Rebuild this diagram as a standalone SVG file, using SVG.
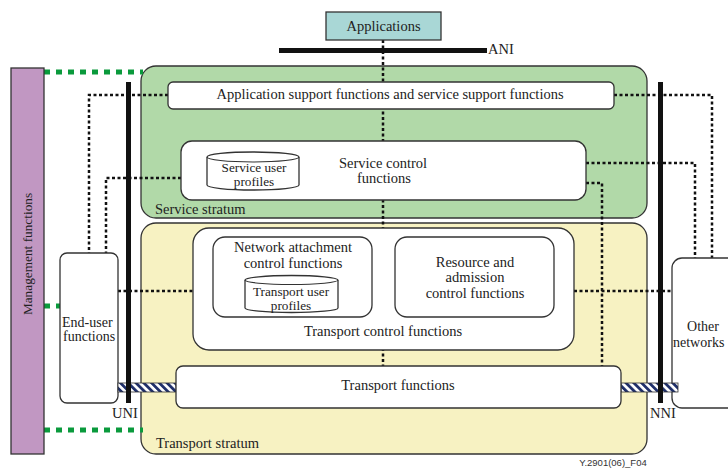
<svg xmlns="http://www.w3.org/2000/svg" width="728" height="468" viewBox="0 0 728 468">
<style>
text{font-family:'Liberation Serif','Times New Roman',Times,serif;}
.t{font-size:14.5px;fill:#222;}
.s{font-size:13.2px;}
.box{fill:#fff;stroke:#333;stroke-width:1.3;}
.dot{fill:none;stroke:#111;stroke-width:2.5;stroke-dasharray:3 2.5;}
.gdash{fill:none;stroke:#0a9a3c;stroke-width:5;stroke-dasharray:6 6;}
.bar{fill:#111;}
.foot{font-family:'Liberation Sans',Arial,sans-serif;font-size:9.5px;fill:#333;}
</style>
<defs>
<pattern id="hatch" patternUnits="userSpaceOnUse" width="5.5" height="5.5" patternTransform="rotate(-45)">
<rect width="5.5" height="5.5" fill="#fff"/>
<rect width="2.8" height="5.5" fill="#1f2f6a"/>
</pattern>
</defs>
<rect width="728" height="468" fill="#fff"/>

<g font-family="Liberation Serif, Times New Roman, serif">
<g id="service-stratum">
<rect x="141" y="66" width="506" height="152" rx="15" fill="#b1d9a8" stroke="#333" stroke-width="1.3"/>
<text class="t" x="155" y="214">Service stratum</text>
</g>
<g id="transport-stratum">
<rect x="141" y="223" width="506" height="231" rx="15" fill="#f7f2c2" stroke="#333" stroke-width="1.3"/>
<text class="t" x="156" y="448">Transport stratum</text>
</g>

<g id="connectors">
<line class="dot" x1="383" y1="40" x2="383" y2="366"/>
<polyline class="dot" points="168,95 89,95 89,253"/>
<polyline class="dot" points="181,178 106,178 106,253"/>
<polyline class="dot" points="614,95 712,95 712,258"/>
<polyline class="dot" points="586,163 695,163 695,258"/>
<polyline class="dot" points="586,183 602,183 602,366"/>
<line class="dot" x1="118" y1="291" x2="193" y2="291"/>
<line class="dot" x1="574" y1="291" x2="672" y2="291"/>
<line class="dot" x1="372" y1="275" x2="395" y2="275"/>
<line class="gdash" x1="44" y1="72" x2="143" y2="72"/>
<line class="gdash" x1="44" y1="306" x2="60" y2="306"/>
<line class="gdash" x1="44" y1="430" x2="143" y2="430"/>
</g>

<g id="applications">
<rect x="326" y="12" width="115" height="28" fill="#a9d7d6" stroke="#333" stroke-width="1.3"/>
<text class="t" x="383.5" y="31" text-anchor="middle">Applications</text>
</g>
<g id="ani">
<rect class="bar" x="279" y="48" width="208" height="5"/>
<text class="t" x="488" y="53.5">ANI</text>
</g>

<g id="management-functions">
<rect x="11" y="68" width="33" height="386" fill="#c197c2" stroke="#333" stroke-width="1.3"/>
<text class="t" style="font-size:13.3px" transform="translate(32,254) rotate(-90)" text-anchor="middle">Management functions</text>
</g>

<g id="app-support">
<rect class="box" x="168" y="82" width="446" height="27" rx="5"/>
<text class="t" x="390" y="99" text-anchor="middle">Application support functions and service support functions</text>
</g>

<g id="service-control">
<rect class="box" x="181" y="141" width="405" height="59" rx="11"/>
<text class="t" x="383" y="168" text-anchor="middle">Service control</text>
<text class="t" x="384" y="183" text-anchor="middle">functions</text>
</g>
<g id="service-user-profiles">
<path class="box" d="M207,157 A46,5 0 0 1 299,157 L299,185 A46,5 0 0 1 207,185 Z"/>
<path d="M207,157 A46,5 0 0 0 299,157" fill="none" stroke="#333" stroke-width="1.1"/>
<text class="t s" x="254" y="172" text-anchor="middle">Service user</text>
<text class="t s" x="254" y="186" text-anchor="middle">profiles</text>
</g>

<g id="transport-control">
<rect class="box" x="193" y="228" width="381" height="122" rx="16"/>
<text class="t" x="383" y="336" text-anchor="middle">Transport control functions</text>
</g>
<g id="network-attachment">
<rect class="box" x="213" y="237" width="159" height="80" rx="12"/>
<text class="t" x="293" y="252" text-anchor="middle">Network attachment</text>
<text class="t" x="293" y="268" text-anchor="middle">control functions</text>
</g>
<g id="transport-user-profiles">
<path class="box" d="M245,280 A46.5,4.5 0 0 1 338,280 L338,308 A46.5,4.5 0 0 1 245,308 Z"/>
<path d="M245,280 A46.5,4.5 0 0 0 338,280" fill="none" stroke="#333" stroke-width="1.1"/>
<text class="t s" x="291" y="295.5" text-anchor="middle">Transport user</text>
<text class="t s" x="291" y="309.5" text-anchor="middle">profiles</text>
</g>
<g id="resource-admission">
<rect class="box" x="395" y="237" width="159" height="80" rx="12"/>
<text class="t" x="475" y="267" text-anchor="middle">Resource and</text>
<text class="t" x="475" y="282" text-anchor="middle">admission</text>
<text class="t" x="475" y="298" text-anchor="middle">control functions</text>
</g>

<g id="end-user">
<rect class="box" x="60" y="253" width="58" height="150" rx="7"/>
<text class="t" style="font-size:14px" x="62" y="326.5">End-user</text>
<text class="t" style="font-size:14px" x="63" y="340.5">functions</text>
</g>
<g id="other-networks">
<rect class="box" x="672" y="258" width="70" height="150" rx="10"/>
<text class="t" style="font-size:14px" x="703" y="331" text-anchor="middle">Other</text>
<text class="t" style="font-size:14px" x="673" y="346.5">networks</text>
</g>

<g id="hatch-links">
<rect x="118" y="383" width="58" height="9" fill="url(#hatch)" stroke="#333" stroke-width="0.8"/>
<rect x="621" y="383" width="57" height="9" fill="url(#hatch)" stroke="#333" stroke-width="0.8"/>
</g>

<g id="transport-functions">
<rect class="box" x="176" y="366" width="445" height="42" rx="7"/>
<text class="t" x="398" y="390" text-anchor="middle">Transport functions</text>
</g>

<g id="uni">
<rect class="bar" x="126" y="82" width="5" height="321"/>
<text class="t" x="112" y="418">UNI</text>
</g>
<g id="nni">
<rect class="bar" x="658" y="82" width="5" height="321"/>
<text class="t" x="650" y="418">NNI</text>
</g>
</g>

<text class="foot" x="613" y="465.5" text-anchor="middle">Y.2901(06)_F04</text>
</svg>
